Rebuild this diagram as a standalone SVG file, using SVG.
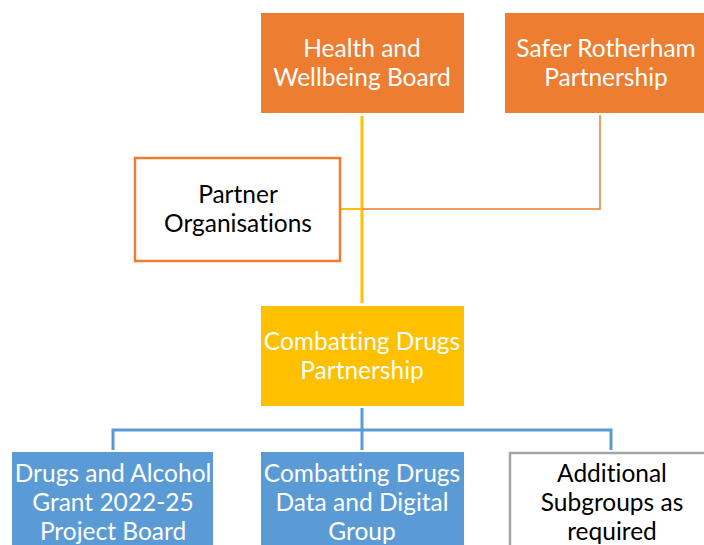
<svg xmlns="http://www.w3.org/2000/svg" width="704" height="545" viewBox="0 0 704 545">
<style>
text{font-family:Lato,"Liberation Sans",sans-serif;font-size:24.5px;text-anchor:middle;font-variant-ligatures:none}
.w{fill:#fff}.k{fill:#000}
.or{fill:#ED7D31}
.ye{fill:#FFC000}
.bl{fill:#5B9BD5}
</style>
<rect width="704" height="545" fill="#fff"/>
<g id="connectors" fill="none">
<line x1="362" y1="116" x2="362" y2="303" stroke="#FFC000" stroke-width="3"/>
<line x1="341" y1="209" x2="362" y2="209" stroke="#FFC000" stroke-width="2"/>
<polyline points="362,209 600,209 600,115" stroke="#ED7D31" stroke-width="1.5"/>
<polyline points="362,408 362,430" stroke="#5B9BD5" stroke-width="3"/>
<polyline points="113,450 113,430 611,430 611,450" stroke="#5B9BD5" stroke-width="3"/>
<line x1="362" y1="430" x2="362" y2="450" stroke="#5B9BD5" stroke-width="3"/>
</g>
<g id="hwb">
<rect class="or" x="261" y="13" width="203" height="100"/>
<text class="w" x="362" y="57">Health and</text>
<text class="w" x="362" y="86">Wellbeing Board</text>
</g>
<g id="srp">
<rect class="or" x="505" y="13" width="210" height="100"/>
<text class="w" x="606" y="57">Safer Rotherham</text>
<text class="w" x="606" y="86">Partnership</text>
</g>
<g id="partner">
<rect x="135" y="158" width="205" height="103" fill="#fff" stroke="#ED7D31" stroke-width="2.5"/>
<text class="k" x="238" y="203">Partner</text>
<text class="k" x="238" y="232">Organisations</text>
</g>
<g id="cdp">
<rect class="ye" x="261" y="306" width="203" height="100"/>
<text class="w" x="362" y="350">Combatting Drugs</text>
<text class="w" x="362" y="379">Partnership</text>
</g>
<g id="dag">
<rect class="bl" x="12" y="452" width="201" height="100"/>
<text class="w" x="113" y="482">Drugs and Alcohol</text>
<text class="w" x="113" y="511">Grant 2022-25</text>
<text class="w" x="113" y="540">Project Board</text>
</g>
<g id="cddd">
<rect class="bl" x="261" y="452" width="203" height="100"/>
<text class="w" x="362" y="482">Combatting Drugs</text>
<text class="w" x="362" y="511">Data and Digital</text>
<text class="w" x="362" y="540">Group</text>
</g>
<g id="asg">
<rect x="510" y="453" width="210" height="100" fill="#fff" stroke="#A5A5A5" stroke-width="2.5"/>
<text class="k" x="612" y="482">Additional</text>
<text class="k" x="612" y="511">Subgroups as</text>
<text class="k" x="612" y="540">required</text>
</g>
</svg>
